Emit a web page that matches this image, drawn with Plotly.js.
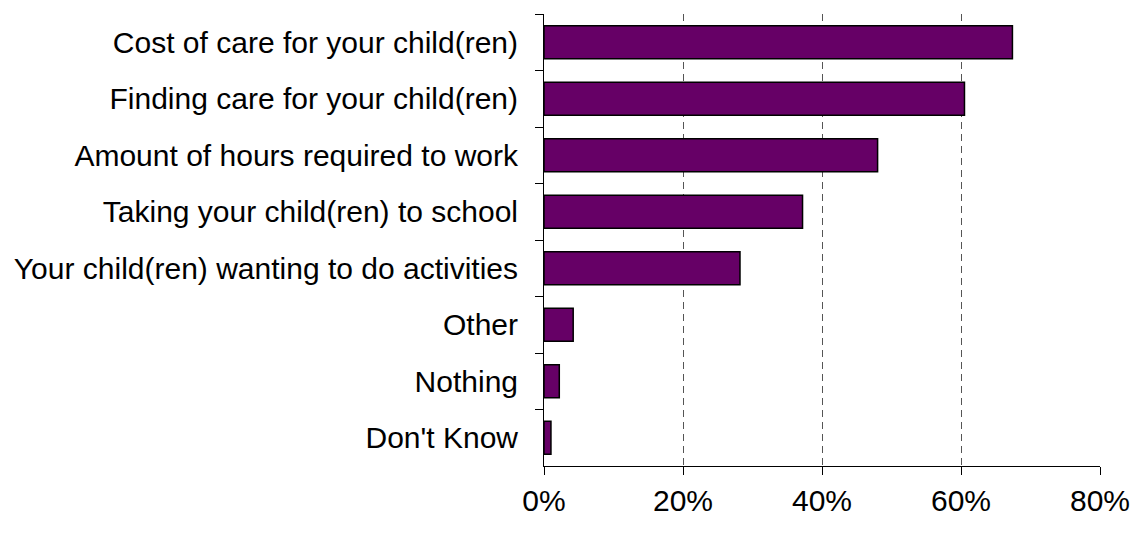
<!DOCTYPE html>
<html>
<head>
<meta charset="utf-8">
<script src="https://cdn.plot.ly/plotly-3.0.1.min.js"></script>
<style>html,body{margin:0;padding:0;background:#fff;}#chart{width:1138px;height:533px;}</style>
</head>
<body>
<div id="chart"></div>
<script>
const categories = [
  "Cost of care for your child(ren)",
  "Finding care for your child(ren)",
  "Amount of hours required to work",
  "Taking your child(ren) to school",
  "Your child(ren) wanting to do activities",
  "Other",
  "Nothing",
  "Don't Know"
];
const values = [67.4, 60.5, 48.0, 37.2, 28.2, 4.2, 2.2, 1.0];
const xTickVals = [0, 20, 40, 60, 80];
const xTickText = ["0%", "20%", "40%", "60%", "80%"];

const trace = {
  type: "bar",
  orientation: "h",
  y: categories,
  x: values,
  marker: {color: "#660066", line: {color: "#000000", width: 1.5}},
  hoverinfo: "none"
};

const layout = {
  width: 1138,
  height: 533,
  margin: {l: 544, r: 38, t: 14, b: 67},
  paper_bgcolor: "#ffffff",
  plot_bgcolor: "#ffffff",
  showlegend: false,
  bargap: 0.42,
  font: {family: "Liberation Sans, Arial, sans-serif", size: 30, color: "#000000"},
  xaxis: {
    range: [0, 80],
    tickvals: xTickVals,
    ticktext: xTickText,
    showgrid: true,
    gridcolor: "#555555",
    gridwidth: 1,
    griddash: "7px,5px",
    zeroline: false,
    showline: true,
    linecolor: "#000000",
    linewidth: 1,
    ticks: "outside",
    ticklen: 8,
    tickcolor: "#000000",
    tickfont: {size: 30},
    ticklabelstandoff: 0,
    fixedrange: true
  },
  yaxis: {
    type: "category",
    autorange: "reversed",
    showgrid: false,
    zeroline: false,
    showline: true,
    linecolor: "#000000",
    linewidth: 1,
    ticks: "outside",
    tickson: "boundaries",
    ticklen: 8,
    tickcolor: "#000000",
    tickfont: {size: 30},
    ticklabelstandoff: 19,
    fixedrange: true
  }
};

Plotly.newPlot("chart", [trace], layout, {displayModeBar: false, staticPlot: true});
</script>
</body>
</html>
